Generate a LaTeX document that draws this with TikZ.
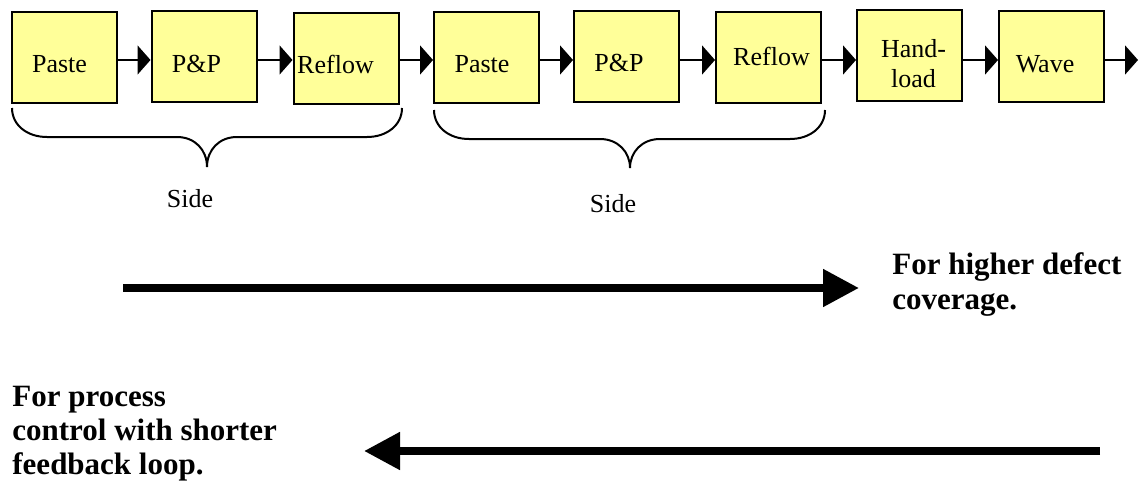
\documentclass[tikz,border=0pt]{standalone}
\usepackage{fontspec}
\setmainfont{Liberation Serif}
\usetikzlibrary{arrows.meta}
\definecolor{boxfill}{HTML}{FFFF99}
\tikzset{
  stepbox/.style={draw=black, line width=1pt, fill=boxfill, minimum width=52.5pt, minimum height=45.5pt, inner sep=0pt},
  boxtext/.style={inner sep=0pt, anchor=base, font=\fontsize{13pt}{15pt}\selectfont},
  sidetext/.style={inner sep=0pt, anchor=base, font=\fontsize{13pt}{15pt}\selectfont},
  bigtext/.style={inner sep=0pt, anchor=base west, font=\fontsize{15.5pt}{17.5pt}\selectfont\bfseries},
  flow/.style={line width=0.9pt, -{Triangle[length=6.5pt, width=14.5pt]}},
  bigflow/.style={line width=4pt, -{Triangle[length=18pt, width=18pt]}},
  bracepath/.style={line width=1pt},
}
\begin{document}
\begin{tikzpicture}[x=0.5pt, y=-0.5pt]
\useasboundingbox (0,0) rectangle (1143,492);
% boxes
\node[stepbox] (b1) at (64,57.5) {};
\node[stepbox] (b2) at (204,56.5) {};
\node[stepbox] (b3) at (346,58.5) {};
\node[stepbox] (b4) at (486.5,57.5) {};
\node[stepbox] (b5) at (626.5,56.5) {};
\node[stepbox] (b6) at (768.5,57.5) {};
\node[stepbox] (b7) at (909.5,55.5) {};
\node[stepbox] (b8) at (1051.5,56.5) {};
% box texts
\node[boxtext] (t1) at (59.5,73) {Paste};
\node[boxtext] (t2) at (196.5,73) {P\&P};
\node[boxtext] (t3) at (335.5,74) {Reflow};
\node[boxtext] (t4) at (482,73) {Paste};
\node[boxtext] (t5) at (619,72) {P\&P};
\node[boxtext] (t6) at (771.5,66) {Reflow};
\node[boxtext] (t7a) at (913.5,58) {Hand-};
\node[boxtext] (t7b) at (913.5,88) {load};
\node[boxtext] (t8) at (1045,73) {Wave};
% flow arrows
\coordinate (row) at (0,60);
\coordinate (endpt) at (1138,60);
\draw[flow] (b1.east |- row) -- (b2.west |- row);
\draw[flow] (b2.east |- row) -- (b3.west |- row);
\draw[flow] (b3.east |- row) -- (b4.west |- row);
\draw[flow] (b4.east |- row) -- (b5.west |- row);
\draw[flow] (b5.east |- row) -- (b6.west |- row);
\draw[flow] (b6.east |- row) -- (b7.west |- row);
\draw[flow] (b7.east |- row) -- (b8.west |- row);
\draw[flow] (b8.east |- row) -- (endpt);
% braces
\draw[bracepath] (12,108) .. controls (12,125) and (27,137) .. (47,137) -- (177,137)
  .. controls (195,137) and (207,150) .. (207,167)
  .. controls (207,150) and (219,137) .. (237,137) -- (367,137)
  .. controls (387,137) and (402,125) .. (402,108);
\draw[bracepath] (434,110) .. controls (434,127) and (449,139) .. (469,139) -- (600,139)
  .. controls (618,139) and (630,152) .. (630,168)
  .. controls (630,152) and (642,139) .. (660,139) -- (790,139)
  .. controls (810,139) and (825,127) .. (825,110);
\node[sidetext] (s1) at (190,207) {Side};
\node[sidetext] (s2) at (613,212) {Side};
% big arrows
\coordinate (a1s) at (123,288);
\coordinate (a1e) at (859,288);
\coordinate (a2s) at (1100,451);
\coordinate (a2e) at (364,451);
\draw[bigflow] (a1s) -- (a1e);
\draw[bigflow] (a2s) -- (a2e);
\node[bigtext] (h1) at (892,274) {For higher defect};
\node[bigtext] (h2) at (892,309) {coverage.};
\node[bigtext] (p1) at (12,406) {For process};
\node[bigtext] (p2) at (12,440) {control with shorter};
\node[bigtext] (p3) at (12,474) {feedback loop.};
\end{tikzpicture}
\end{document}
